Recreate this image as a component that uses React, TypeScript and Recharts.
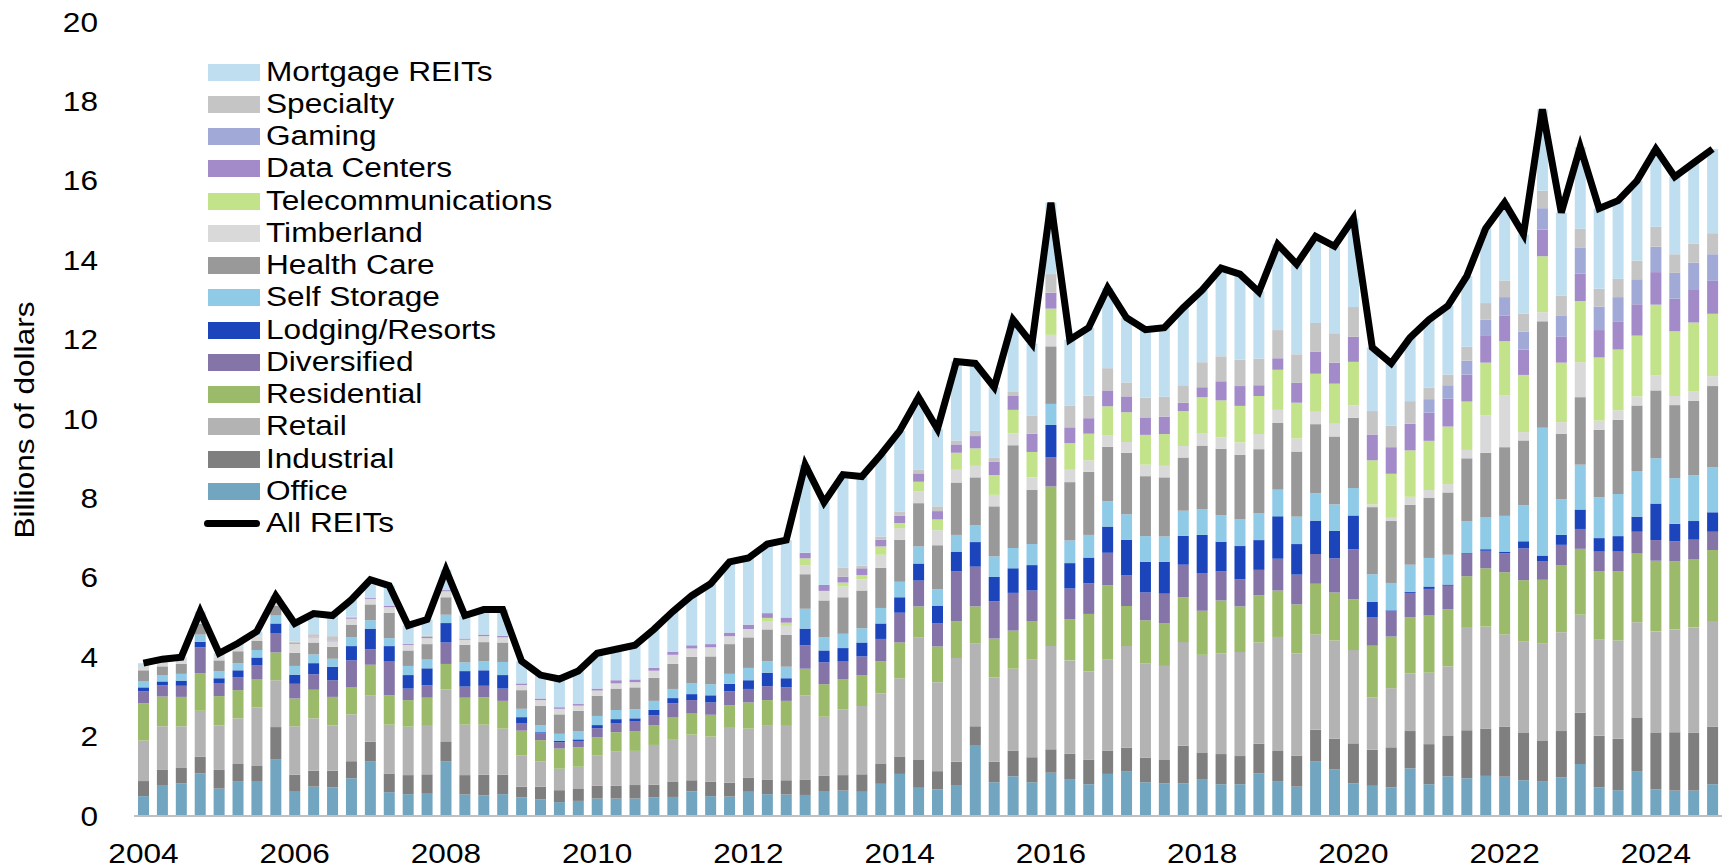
import { ComposedChart, Bar, Line, XAxis, YAxis } from 'recharts';

const FONT = '"Liberation Sans", Arial, sans-serif';
const STRETCH = 1.17;

// quarterly categories, 2004Q1 .. 2024Q4
const years = Array.from({ length: 21 }, (_, i) => 2004 + i);
const quarters = years.flatMap(y => [1, 2, 3, 4].map(q => `${y}Q${q}`));

const yTicks = [0, 2, 4, 6, 8, 10, 12, 14, 16, 18, 20];

// billions of dollars
const office = [0.50, 0.78, 0.82, 1.07, 0.69, 0.88, 0.88, 1.42, 0.63, 0.74, 0.72, 0.95, 1.37, 0.60, 0.55, 0.56, 1.37, 0.54, 0.52, 0.55, 0.47, 0.42, 0.35, 0.38, 0.44, 0.44, 0.44, 0.47, 0.48, 0.62, 0.50, 0.49, 0.61, 0.55, 0.54, 0.53, 0.63, 0.64, 0.61, 0.81, 1.06, 0.71, 0.67, 0.78, 1.77, 0.85, 1.00, 0.85, 1.09, 0.93, 0.80, 1.06, 1.13, 0.85, 0.82, 0.82, 0.93, 0.80, 0.80, 1.07, 0.88, 0.74, 1.37, 1.17, 0.82, 0.76, 0.72, 1.20, 0.80, 1.00, 0.95, 1.01, 0.99, 0.90, 0.88, 0.97, 1.31, 0.72, 0.65, 1.13, 0.67, 0.64, 0.64, 0.80];
const industrial = [0.38, 0.38, 0.39, 0.42, 0.47, 0.43, 0.38, 0.82, 0.41, 0.40, 0.42, 0.43, 0.50, 0.47, 0.48, 0.49, 0.51, 0.49, 0.52, 0.49, 0.27, 0.32, 0.30, 0.30, 0.32, 0.32, 0.34, 0.32, 0.39, 0.28, 0.36, 0.35, 0.35, 0.37, 0.36, 0.39, 0.38, 0.39, 0.44, 0.50, 0.44, 0.70, 0.46, 0.59, 0.49, 0.52, 0.64, 0.63, 0.59, 0.64, 0.62, 0.59, 0.59, 0.62, 0.59, 0.95, 0.66, 0.76, 0.71, 0.75, 0.76, 0.78, 0.80, 0.78, 1.01, 0.91, 1.01, 0.94, 1.01, 1.03, 1.21, 1.19, 1.26, 1.19, 1.01, 1.17, 1.29, 1.30, 1.30, 1.34, 1.42, 1.47, 1.46, 1.45];
const retail = [1.02, 1.10, 1.05, 1.16, 1.12, 1.15, 1.47, 1.18, 1.22, 1.32, 1.14, 1.18, 1.16, 1.23, 1.22, 1.22, 1.31, 1.27, 1.26, 1.16, 0.79, 0.63, 0.54, 0.56, 0.76, 0.86, 0.86, 1.00, 1.05, 1.15, 1.14, 1.38, 1.24, 1.37, 1.37, 2.12, 1.49, 1.65, 1.72, 1.78, 1.97, 3.09, 2.24, 2.61, 2.08, 2.12, 2.07, 2.46, 2.60, 2.35, 2.22, 2.29, 2.56, 2.37, 2.37, 2.61, 2.47, 2.53, 2.62, 2.55, 2.87, 2.57, 2.40, 2.47, 2.35, 1.32, 1.49, 1.45, 1.80, 1.74, 2.60, 2.57, 2.32, 2.30, 2.45, 2.49, 2.47, 2.42, 2.47, 2.41, 2.56, 2.59, 2.65, 2.66];
const residential = [0.94, 0.75, 0.74, 0.95, 0.74, 0.71, 0.72, 0.70, 0.70, 0.72, 0.72, 0.69, 0.78, 0.74, 0.67, 0.71, 0.64, 0.68, 0.69, 0.70, 0.62, 0.54, 0.51, 0.49, 0.46, 0.49, 0.49, 0.50, 0.56, 0.53, 0.55, 0.57, 0.66, 0.63, 0.63, 0.67, 0.82, 0.77, 0.78, 0.81, 0.90, 0.78, 0.90, 0.92, 0.94, 0.98, 0.96, 0.96, 4.02, 1.03, 1.45, 1.87, 1.01, 1.09, 1.08, 1.13, 1.11, 1.34, 1.15, 1.19, 1.17, 1.24, 1.28, 1.21, 1.28, 1.30, 1.30, 1.42, 1.44, 1.44, 1.28, 1.47, 1.57, 1.55, 1.61, 1.68, 1.66, 1.73, 1.74, 1.73, 1.78, 1.72, 1.71, 1.79];
const diversified = [0.30, 0.28, 0.28, 0.65, 0.33, 0.32, 0.34, 0.49, 0.37, 0.39, 0.42, 0.67, 0.39, 0.85, 0.29, 0.31, 0.54, 0.28, 0.29, 0.31, 0.18, 0.17, 0.16, 0.16, 0.23, 0.23, 0.25, 0.25, 0.36, 0.34, 0.31, 0.35, 0.34, 0.35, 0.34, 0.59, 0.55, 0.44, 0.47, 0.56, 0.75, 0.65, 0.59, 1.26, 1.00, 0.94, 0.95, 0.78, 0.74, 0.78, 0.77, 0.82, 0.77, 0.70, 0.74, 0.82, 0.95, 0.73, 0.68, 0.64, 0.80, 0.75, 0.75, 0.86, 1.26, 0.71, 0.63, 0.61, 0.67, 0.59, 0.56, 0.44, 0.48, 0.80, 0.46, 0.52, 0.50, 0.49, 0.50, 0.55, 0.52, 0.50, 0.50, 0.46];
const lodging = [0.10, 0.10, 0.13, 0.14, 0.12, 0.18, 0.20, 0.24, 0.23, 0.28, 0.34, 0.36, 0.52, 0.39, 0.34, 0.43, 0.49, 0.39, 0.39, 0.34, 0.16, 0.03, 0.03, 0.04, 0.08, 0.10, 0.08, 0.13, 0.13, 0.15, 0.18, 0.19, 0.22, 0.34, 0.23, 0.42, 0.30, 0.34, 0.35, 0.39, 0.39, 0.43, 0.44, 0.50, 0.62, 0.61, 0.62, 0.64, 0.81, 0.64, 0.65, 0.66, 0.90, 0.77, 0.80, 0.73, 0.96, 0.75, 0.84, 0.75, 1.07, 0.77, 0.84, 0.69, 0.85, 0.39, 0.03, 0.03, 0.06, 0.03, 0.02, 0.04, 0.04, 0.18, 0.15, 0.25, 0.49, 0.34, 0.39, 0.38, 0.92, 0.44, 0.47, 0.49];
const selfStorage = [0.16, 0.15, 0.17, 0.18, 0.18, 0.18, 0.19, 0.20, 0.22, 0.22, 0.20, 0.22, 0.21, 0.20, 0.23, 0.22, 0.21, 0.22, 0.23, 0.33, 0.21, 0.18, 0.18, 0.20, 0.23, 0.23, 0.23, 0.23, 0.23, 0.27, 0.28, 0.25, 0.31, 0.29, 0.29, 0.50, 0.33, 0.36, 0.36, 0.39, 0.39, 0.43, 0.41, 0.42, 0.42, 0.52, 0.51, 0.53, 0.53, 0.57, 0.57, 0.64, 0.64, 0.65, 0.64, 0.63, 0.65, 0.67, 0.67, 0.67, 0.67, 0.69, 0.69, 0.67, 0.69, 0.70, 0.69, 0.68, 0.72, 0.75, 0.80, 0.80, 0.90, 0.91, 3.22, 0.90, 1.13, 1.03, 1.06, 1.15, 1.14, 1.15, 1.15, 1.13];
const healthCare = [0.27, 0.23, 0.25, 0.27, 0.27, 0.30, 0.23, 0.25, 0.33, 0.30, 0.30, 0.32, 0.40, 0.64, 0.39, 0.39, 0.44, 0.44, 0.48, 0.49, 0.47, 0.48, 0.49, 0.52, 0.51, 0.54, 0.55, 0.58, 0.63, 0.67, 0.70, 0.75, 0.77, 0.80, 0.80, 0.87, 0.93, 0.92, 0.95, 1.01, 1.06, 1.09, 1.11, 1.32, 1.21, 1.26, 2.59, 1.37, 1.45, 1.47, 1.59, 1.37, 1.55, 1.51, 1.49, 1.34, 1.60, 1.67, 1.63, 1.62, 1.68, 1.64, 1.74, 1.71, 1.77, 1.69, 1.56, 1.51, 1.51, 1.57, 1.59, 1.63, 1.73, 1.63, 2.68, 1.65, 1.70, 1.70, 1.87, 1.65, 1.71, 1.84, 1.88, 2.05];
const timberland = [0.07, 0.10, 0.10, 0.10, 0.10, 0.12, 0.12, 0.10, 0.23, 0.13, 0.14, 0.15, 0.14, 0.14, 0.14, 0.15, 0.15, 0.13, 0.15, 0.13, 0.13, 0.15, 0.14, 0.13, 0.13, 0.13, 0.13, 0.18, 0.23, 0.21, 0.23, 0.20, 0.21, 0.21, 0.23, 0.23, 0.24, 0.27, 0.28, 0.33, 0.29, 0.29, 0.38, 0.32, 0.29, 0.29, 0.30, 0.31, 0.29, 0.31, 0.29, 0.28, 0.27, 0.29, 0.29, 0.29, 0.30, 0.29, 0.31, 0.38, 0.33, 0.33, 0.31, 0.32, 0.31, 0.07, 0.08, 0.20, 0.20, 0.21, 0.21, 0.94, 1.31, 0.21, 0.23, 0.29, 0.88, 0.23, 0.24, 0.23, 0.38, 0.23, 0.23, 0.25];
const telecom = [0, 0, 0, 0, 0, 0, 0, 0, 0, 0, 0, 0, 0, 0, 0, 0, 0, 0, 0, 0, 0, 0, 0, 0, 0, 0, 0, 0, 0, 0, 0, 0, 0, 0.08, 0.08, 0.17, 0, 0.10, 0.11, 0.21, 0.13, 0.25, 0.27, 0.43, 0.44, 0.50, 0.59, 0.64, 0.66, 0.67, 0.67, 0.74, 0.75, 0.75, 0.80, 0.88, 0.92, 0.93, 0.92, 0.96, 1.01, 0.90, 0.96, 1.01, 1.10, 1.11, 1.11, 1.17, 1.24, 1.45, 1.22, 1.33, 1.36, 1.44, 1.41, 1.50, 1.54, 1.59, 1.53, 1.53, 1.78, 1.63, 1.74, 1.57];
const dataCenters = [0, 0, 0, 0, 0, 0, 0, 0, 0.02, 0.02, 0.02, 0.02, 0.03, 0.03, 0.03, 0.03, 0.03, 0.03, 0.04, 0.04, 0.04, 0.04, 0.04, 0.04, 0.05, 0.08, 0.07, 0.07, 0.08, 0.08, 0.08, 0.09, 0.11, 0.12, 0.13, 0.14, 0.15, 0.15, 0.17, 0.17, 0.18, 0.21, 0.21, 0.21, 0.31, 0.34, 0.35, 0.46, 0.40, 0.40, 0.39, 0.40, 0.40, 0.44, 0.44, 0.21, 0.25, 0.48, 0.50, 0.27, 0.29, 0.50, 0.55, 0.53, 0.63, 0.65, 0.67, 0.67, 0.71, 0.70, 0.68, 0.69, 0.64, 0.64, 0.67, 0.65, 0.69, 0.69, 0.71, 0.79, 0.82, 0.82, 0.84, 0.83];
const gaming = [0, 0, 0, 0, 0, 0, 0, 0, 0, 0, 0, 0, 0, 0, 0, 0, 0, 0, 0, 0, 0, 0, 0, 0, 0, 0, 0, 0, 0, 0, 0, 0, 0, 0, 0, 0, 0, 0, 0, 0, 0, 0, 0, 0, 0, 0, 0, 0, 0, 0, 0, 0, 0, 0, 0, 0, 0, 0, 0, 0, 0, 0, 0, 0, 0, 0, 0, 0, 0.34, 0.34, 0.35, 0.39, 0.47, 0.45, 0.54, 0.54, 0.65, 0.59, 0.61, 0.63, 0.64, 0.65, 0.67, 0.67];
const specialty = [0.03, 0, 0, 0.05, 0, 0, 0, 0, 0.03, 0.06, 0.11, 0.03, 0, 0, 0, 0.03, 0, 0, 0, 0, 0, 0, 0, 0, 0, 0, 0, 0, 0, 0, 0, 0, 0, 0, 0, 0, 0, 0.23, 0.07, 0.08, 0.10, 0.10, 0.12, 0.10, 0.13, 0.09, 0.10, 0.46, 0.47, 0.54, 0.57, 0.56, 0.35, 0.50, 0.50, 0.44, 0.63, 0.63, 0.66, 0.67, 0.71, 0.72, 0.73, 0.74, 0.75, 0.59, 0.54, 0.57, 0.29, 0.27, 0.35, 0.42, 0.42, 0.45, 0.44, 0.50, 0.48, 0.45, 0.46, 0.47, 0.50, 0.47, 0.48, 0.53];
const mortgage = [0.08, 0.08, 0.07, 0.16, 0.08, 0.08, 0.12, 0.15, 0.46, 0.52, 0.52, 0.43, 0.45, 0.51, 0.46, 0.41, 0.51, 0.58, 0.63, 0.66, 0.56, 0.59, 0.71, 0.83, 0.89, 0.78, 0.86, 0.97, 1.01, 1.25, 1.52, 1.78, 1.68, 1.74, 1.95, 2.22, 2.08, 2.34, 2.24, 2.06, 2.04, 1.80, 1.95, 1.99, 1.70, 1.78, 1.82, 1.81, 1.80, 1.67, 1.71, 2.02, 1.63, 1.71, 1.74, 1.95, 1.82, 2.22, 2.16, 1.70, 2.16, 2.27, 2.18, 2.19, 2.23, 1.60, 1.57, 1.60, 1.71, 1.73, 1.78, 1.88, 1.96, 2.00, 2.05, 2.09, 2.06, 2.02, 1.97, 2.01, 1.96, 1.95, 2.03, 2.12];
const allReits = [3.85, 3.95, 4.0, 5.15, 4.1, 4.35, 4.65, 5.55, 4.85, 5.1, 5.05, 5.45, 5.95, 5.8, 4.8, 4.95, 6.2, 5.05, 5.2, 5.2, 3.9, 3.55, 3.45, 3.65, 4.1, 4.2, 4.3, 4.7, 5.15, 5.55, 5.85, 6.4, 6.5, 6.85, 6.95, 8.85, 7.9, 8.6, 8.55, 9.1, 9.7, 10.55, 9.75, 11.45, 11.4, 10.8, 12.5, 11.9, 15.45, 12.0, 12.3, 13.3, 12.55, 12.25, 12.3, 12.8, 13.25, 13.8, 13.65, 13.2, 14.4, 13.9, 14.6, 14.35, 15.05, 11.8, 11.4, 12.05, 12.5, 12.85, 13.6, 14.8, 15.45, 14.65, 17.8, 15.2, 16.85, 15.3, 15.5, 16.0, 16.8, 16.1, 16.45, 16.8];

// stacking order, bottom first
const series = [
  { key: 'office', name: 'Office', color: '#71A5C0', values: office },
  { key: 'industrial', name: 'Industrial', color: '#7F7F7F', values: industrial },
  { key: 'retail', name: 'Retail', color: '#B3B3B3', values: retail },
  { key: 'residential', name: 'Residential', color: '#9BBB6B', values: residential },
  { key: 'diversified', name: 'Diversified', color: '#8574A8', values: diversified },
  { key: 'lodging', name: 'Lodging/Resorts', color: '#1C45BC', values: lodging },
  { key: 'selfStorage', name: 'Self Storage', color: '#8FCAE7', values: selfStorage },
  { key: 'healthCare', name: 'Health Care', color: '#999999', values: healthCare },
  { key: 'timberland', name: 'Timberland', color: '#D9D9D9', values: timberland },
  { key: 'telecom', name: 'Telecommunications', color: '#C2E38A', values: telecom },
  { key: 'dataCenters', name: 'Data Centers', color: '#A38BC9', values: dataCenters },
  { key: 'gaming', name: 'Gaming', color: '#A1A9D6', values: gaming },
  { key: 'specialty', name: 'Specialty', color: '#C5C5C5', values: specialty },
  { key: 'mortgage', name: 'Mortgage REITs', color: '#BFDFF0', values: mortgage },
];

const chartData = quarters.map((q, i) => {
  const row: Record<string, string | number> = { quarter: q, allReits: allReits[i] };
  series.forEach(s => { row[s.key] = s.values[i]; });
  return row;
});

function XTick({ x, y, payload }: any) {
  return <text x={0} y={0} dy="0.355em" textAnchor="middle" fontSize={27} fontFamily={FONT} fill="#000"
    transform={`translate(${x},${y}) scale(${STRETCH},1)`}>
      {String(payload.value).slice(0, 4)}
    </text>;
}

function YTick({ x, y, payload }: any) {
  return <text x={0} y={0} dy="0.355em" textAnchor="end" fontSize={27} fontFamily={FONT} fill="#000"
    transform={`translate(${x},${y}) scale(${STRETCH},1)`}>
      {payload.value}
    </text>;
}

const labelStyle = {
  marginLeft: 6,
  display: 'inline-block',
  transform: `scaleX(${STRETCH})`,
  transformOrigin: 'left center',
  whiteSpace: 'nowrap' as const,
  lineHeight: '27px'
};

function LegendBox() {
  const items = [...series].reverse();
  return <div style={{ position: 'absolute', left: 208, top: 56, fontFamily: FONT, fontSize: 27, color: '#000' }}>
      {items.map(s => <div key={s.key} style={{ display: 'flex', alignItems: 'center', height: 32.25 }}>
          <div style={{ width: 52, height: 17, background: s.color }} />
          <span style={labelStyle}>{s.name}</span>
        </div>)}
      <div style={{ display: 'flex', alignItems: 'center', height: 32.25 }}>
        <div style={{ width: 56, height: 7, background: '#000', borderRadius: 4, marginLeft: -4 }} />
        <span style={labelStyle}>All REITs</span>
      </div>
    </div>;
}

export default function App() {
  return <div style={{ position: 'absolute', left: 0, top: 0, width: 1729, height: 868, background: '#fff' }}>
      <ComposedChart width={1729} height={868} data={chartData} margin={{ top: 22, right: 7, bottom: 0, left: 34 }}>
        <XAxis dataKey="quarter" interval={7} height={52} tickLine={false} tickSize={0} tickMargin={37}
          axisLine={{ stroke: '#BFBFBF', strokeWidth: 2 }} tick={<XTick />} />
        <YAxis type="number" domain={[0, 20]} ticks={yTicks} width={100} axisLine={false} tickLine={false}
          tickSize={0} tickMargin={36} tick={<YTick />} />
        {series.map(s => <Bar key={s.key} dataKey={s.key} name={s.name} stackId="reits" fill={s.color}
            barSize={11} isAnimationActive={false} />)}
        <Line type="linear" dataKey="allReits" name="All REITs" stroke="#000" strokeWidth={7}
          dot={false} activeDot={false} isAnimationActive={false} />
      </ComposedChart>
      <LegendBox />
      <div style={{ position: 'absolute', left: 25, top: 420, fontFamily: FONT, fontSize: 27, lineHeight: '27px',
        whiteSpace: 'nowrap', color: '#000', transform: `translate(-50%,-50%) rotate(-90deg) scaleX(${STRETCH})` }}>
        Billions of dollars
      </div>
    </div>;
}
